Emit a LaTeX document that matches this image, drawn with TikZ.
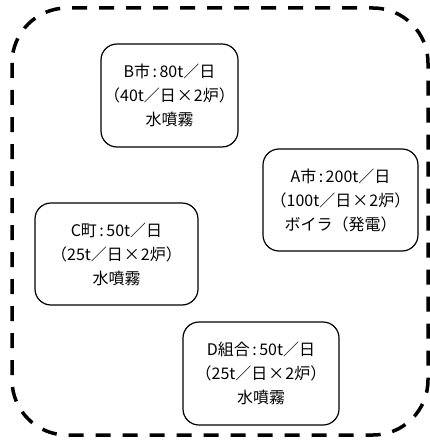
\documentclass[tikz,border=0pt]{standalone}
\usepackage{fontspec}
\setmainfont{Noto Sans CJK JP}
\newcommand{\cln}{\kern2.5pt:\kern2.5pt}
\newcommand{\tms}{\kern1pt×\kern1pt}
\begin{document}
\begin{tikzpicture}[x=1pt,y=-1pt,
  plant/.style={draw,line width=1.2pt,rounded corners=16pt,align=center,
    inner sep=0pt,font=\fontsize{16}{24}\selectfont},
  region/.style={draw,line width=3.5pt,rounded corners=55pt,dash pattern=on 15pt off 12pt}]
\useasboundingbox (0,0) rectangle (430,441);
\draw[region] (12,8) rectangle (428,435);
\node[plant,minimum width=137pt,minimum height=103pt] (B) at (169.5,95.5)
  {B市\cln 80t／日\\（40t／日\tms 2炉）\\水噴霧};
\node[plant,minimum width=155pt,minimum height=102pt] (A) at (340.5,200)
  {A市\cln 200t／日\\（100t／日\tms 2炉）\\ボイラ（発電）};
\node[plant,minimum width=163pt,minimum height=102pt] (C) at (116.5,254)
  {C町\cln 50t／日\\（25t／日\tms 2炉）\\水噴霧};
\node[plant,minimum width=156pt,minimum height=103pt] (D) at (261,373.5)
  {D組合\cln 50t／日\\（25t／日\tms 2炉）\\水噴霧};
\end{tikzpicture}
\end{document}
